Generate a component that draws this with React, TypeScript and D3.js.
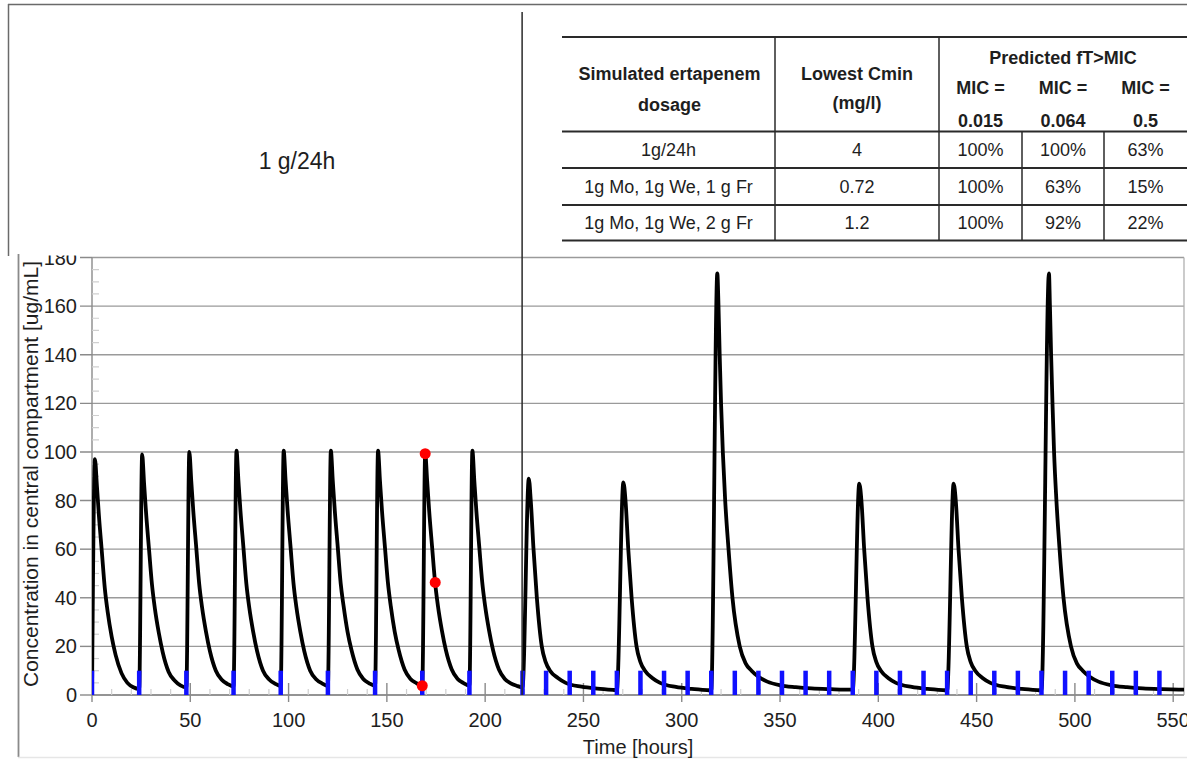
import React from "react";
import * as d3 from "d3";

const W = 1187;
const H = 763;

// ---------- data ----------
const yTicks = [0, 20, 40, 60, 80, 100, 120, 140, 160, 180];
const xTicks = [0, 50, 100, 150, 200, 250, 300, 350, 400, 450, 500, 550];

// concentration curve [hours, ug/mL]
const concentration: [number, number][] = [
  // 1 g / 24 h
  [0, 0], [1.5, 97], [2.5, 86], [3.5, 74], [5, 59], [6.5, 44], [8, 34], [10, 24], [12, 16.5], [15, 9], [18, 5], [21, 3.2],
  [24, 2.5], [25.5, 99], [26.5, 87], [27.5, 75], [29, 60], [30.5, 45.5], [32, 35.5], [34, 25.5], [36, 17.5], [39, 9.5], [42, 6], [45, 4],
  [48, 3.1], [49.5, 100], [50.5, 88], [51.5, 76], [53, 61], [54.5, 46], [56, 36], [58, 26], [60, 18], [63, 10], [66, 6.3], [69, 4.5],
  [72, 3.5], [73.5, 100.5], [74.5, 88], [75.5, 76], [77, 61], [78.5, 46], [80, 36], [82, 26], [84, 18], [87, 10], [90, 6.5], [93, 4.7],
  [96, 3.7], [97.5, 100.5], [98.5, 88], [99.5, 76], [101, 61], [102.5, 46], [104, 36], [106, 26], [108, 18], [111, 10], [114, 6.5], [117, 4.8],
  [120, 3.8], [121.5, 100.5], [122.5, 88], [123.5, 76], [125, 61], [126.5, 46], [128, 36.5], [130, 26], [132, 18.5], [135, 10.5], [138, 6.6], [141, 4.8],
  [144, 3.8], [145.5, 100.5], [146.5, 88], [147.5, 76], [149, 61], [150.5, 46.5], [152, 36.5], [154, 26], [156, 18.5], [159, 10.5], [162, 6.6], [165, 4.9],
  [168, 3.8], [169.5, 99.5], [170.5, 88], [171.5, 76], [173, 61], [174.5, 46.5], [176, 36.5], [178, 26.5], [180, 18.5], [183, 10.5], [186, 6.6], [189, 4.9],
  [192, 3.9], [193.5, 100.5], [194.5, 88], [195.5, 76], [197, 61], [198.5, 46.5], [200, 36.5], [202, 26.5], [204, 18.5], [207, 10.5], [210, 6.6], [213, 4.8], [216, 3.8],
  // 1 g Mo, 1 g We, 2 g Fr
  [219, 3.2], [222.2, 89], [223.2, 80], [224.6, 60], [226.3, 40], [228.8, 20], [230.8, 13.5], [233, 10], [237, 7], [241, 5], [249, 3.4], [257, 2.6], [265, 2.1],
  [267, 2.0], [270.3, 87.5], [271.4, 80], [272.8, 60], [274.5, 40], [277, 20], [279, 13.5], [281.3, 10], [285, 7], [289, 5], [297, 3.3], [305, 2.5], [313, 2.0],
  [315, 1.9], [318.1, 173.5], [318.7, 160], [319.3, 140], [320, 120], [320.9, 100], [322.1, 80], [323.8, 60], [325.8, 40], [329.5, 20], [332.5, 13], [335.5, 10], [339, 7.5], [343.5, 5.5], [350, 4], [358, 3.2], [366, 2.7], [376, 2.4],
  [387, 2.2], [390.3, 87], [391.4, 80], [392.8, 60], [394.5, 40], [397, 20], [399, 13.5], [401.3, 10], [405, 7], [409, 5], [417, 3.3], [425, 2.5], [433, 2.0],
  [435, 1.9], [438.3, 87], [439.4, 80], [440.8, 60], [442.5, 40], [445, 20], [447, 13.5], [449.3, 10], [453, 7], [457, 5], [465, 3.3], [473, 2.5], [481, 2.0],
  [483, 1.9], [486.8, 173.5], [487.3, 160], [487.9, 140], [488.6, 120], [489.4, 100], [490.6, 80], [492.2, 60], [494.2, 40], [498, 20], [501, 13], [504, 10], [507.5, 7.5], [512, 5.5], [518.5, 4], [526.5, 3.2], [534.5, 2.7], [544.5, 2.4], [556, 2.2],
];

// blue dosing / sampling markers (hours)
const markerTimes = [
  0, 24, 48, 72, 96, 120, 144, 168, 192,
  219, 231, 243, 255, 267, 279, 291, 303, 315, 327, 339, 351, 363, 375, 387,
  399, 411, 423, 435, 447, 459, 471, 483, 495, 507, 519, 531, 543,
];
const markerHeight = 10;

// red observation points
const redPoints: [number, number][] = [
  [168, 3.8],
  [169.5, 99.3],
  [174.6, 46.3],
];

const dividerTime = 218.8;

// table
const tableHeadDosage = ["Simulated ertapenem", "dosage"];
const tableHeadCmin = ["Lowest Cmin", "(mg/l)"];
const tableHeadFT = "Predicted fT>MIC";
const micValues = ["0.015", "0.064", "0.5"];
const tableRows = [
  { dosage: "1g/24h", cmin: "4", ft: ["100%", "100%", "63%"] },
  { dosage: "1g Mo, 1g We, 1 g Fr", cmin: "0.72", ft: ["100%", "63%", "15%"] },
  { dosage: "1g Mo, 1g We, 2 g Fr", cmin: "1.2", ft: ["100%", "92%", "22%"] },
];

const panelTitle = "1 g/24h";
const xTitle = "Time [hours]";
const yTitle = "Concentration in central compartment [ug/mL]";

// ---------- layout ----------
const plot = { left: 92, right: 1184, top: 257.5, bottom: 695 };
const FONT = "'Liberation Sans', Arial, Helvetica, sans-serif";
const TXT = "#1e1e1e";

export default function App() {
  const x = d3.scaleLinear().domain([0, 555.5]).range([plot.left, plot.right]);
  const y = d3.scaleLinear().domain([0, 180]).range([plot.bottom, plot.top]);

  const line = d3
    .line<[number, number]>()
    .x((d) => x(d[0]))
    .y((d) => y(d[1]))
    .curve(d3.curveMonotoneX);

  const xMinor = d3.range(0, 556, 10).filter((v) => v % 50 !== 0);
  const yMinor = d3.range(0, 181, 5).filter((v) => v % 20 !== 0);

  // table geometry
  const tL = 562, tR = W;
  const tTop = 37, tHead = 131.5, tR1 = 168, tR2 = 205, tBot = 240.5;
  const c1 = 775, c2 = 939, c3 = 1022, c4 = 1104;
  const colDos = (tL + c1) / 2;
  const colCmin = (c1 + c2) / 2;
  const micCols = [(c2 + c3) / 2, (c3 + c4) / 2, (c4 + tR) / 2];
  const rowY = [(tHead + tR1) / 2, (tR1 + tR2) / 2, (tR2 + tBot) / 2];

  return (
    <svg
      width={W}
      height={H}
      viewBox={`0 0 ${W} ${H}`}
      style={{ position: "absolute", left: 0, top: 0, background: "#fff" }}
      fontFamily={FONT}
    >
      <defs>
        <clipPath id="plotClip">
          <rect x={plot.left} y={plot.top - 4} width={plot.right - plot.left} height={plot.bottom - plot.top + 4} />
        </clipPath>
        <clipPath id="lowerClip">
          <rect x={0} y={255.5} width={W} height={H - 255.5} />
        </clipPath>
      </defs>
      <rect x={0} y={0} width={W} height={H} fill="#fff" />

      {/* outer frames */}
      <line x1={8} x2={W} y1={4.5} y2={4.5} stroke="#6a6a6a" strokeWidth={1.5} />
      <line x1={8.5} x2={8.5} y1={4} y2={256} stroke="#6a6a6a" strokeWidth={1.5} />
      <line x1={18.5} x2={18.5} y1={254} y2={757} stroke="#8a8a8a" strokeWidth={1.8} />
      <line x1={18} x2={W} y1={757.5} y2={757.5} stroke="#e6e6e6" strokeWidth={1.5} />

      {/* panel title */}
      <text x={297} y={161} fontSize={23} fill={TXT} textAnchor="middle" dominantBaseline="central">
        {panelTitle}
      </text>

      {/* table */}
      <g stroke="#2a2a2a">
        <line x1={tL} x2={tR} y1={tTop} y2={tTop} strokeWidth={2} />
        <line x1={tL} x2={tR} y1={tHead} y2={tHead} strokeWidth={2} />
        <line x1={tL} x2={tR} y1={tR1} y2={tR1} strokeWidth={1.8} />
        <line x1={tL} x2={tR} y1={tR2} y2={tR2} strokeWidth={1.8} />
        <line x1={tL} x2={tR} y1={tBot} y2={tBot} strokeWidth={2} />
        <line x1={c1} x2={c1} y1={tTop} y2={tBot} strokeWidth={1.5} />
        <line x1={c2} x2={c2} y1={tTop} y2={tBot} strokeWidth={1.5} />
        <line x1={c3} x2={c3} y1={tHead} y2={tBot} strokeWidth={1.5} />
        <line x1={c4} x2={c4} y1={tHead} y2={tBot} strokeWidth={1.5} />
      </g>
      <g fill={TXT} fontWeight="bold" fontSize={18} textAnchor="middle" dominantBaseline="central">
        <text x={colDos + 1} y={74}>{tableHeadDosage[0]}</text>
        <text x={colDos + 1} y={105}>{tableHeadDosage[1]}</text>
        <text x={colCmin} y={74}>{tableHeadCmin[0]}</text>
        <text x={colCmin} y={103}>{tableHeadCmin[1]}</text>
        <text x={micCols[1]} y={58}>{tableHeadFT}</text>
        {micValues.map((m, i) => (
          <g key={m}>
            <text x={micCols[i]} y={88}>MIC =</text>
            <text x={micCols[i]} y={121}>{m}</text>
          </g>
        ))}
      </g>
      <g fill={TXT} fontSize={18} textAnchor="middle" dominantBaseline="central">
        {tableRows.map((r, i) => (
          <g key={r.dosage}>
            <text x={colDos} y={rowY[i]}>{r.dosage}</text>
            <text x={colCmin} y={rowY[i]}>{r.cmin}</text>
            {r.ft.map((v, j) => (
              <text key={j} x={micCols[j]} y={rowY[i]}>{v}</text>
            ))}
          </g>
        ))}
      </g>

      {/* chart */}
      <g clipPath="url(#lowerClip)">
        {/* grid */}
        {yTicks.map((t) => (
          <line key={"g" + t} x1={plot.left} x2={plot.right} y1={y(t)} y2={y(t)} stroke="#9a9a9a" strokeWidth={1.4} />
        ))}
        <line x1={plot.right} x2={plot.right} y1={plot.top} y2={plot.bottom} stroke="#b0b0b0" strokeWidth={1.3} />
        {/* y axis */}
        <line x1={plot.left} x2={plot.left} y1={plot.top} y2={plot.bottom} stroke="#8a8a8a" strokeWidth={1.4} />
        {yTicks.map((t) => (
          <line key={"yt" + t} x1={80} x2={plot.left} y1={y(t)} y2={y(t)} stroke="#8a8a8a" strokeWidth={1.4} />
        ))}
        {yMinor.map((t) => (
          <line key={"ym" + t} x1={plot.left} x2={plot.left + 7} y1={y(t)} y2={y(t)} stroke="#cfcfcf" strokeWidth={1.2} />
        ))}
        {yTicks.map((t) => (
          <text key={"yl" + t} x={77} y={y(t)} fontSize={20} fill={TXT} textAnchor="end" dominantBaseline="central">
            {t}
          </text>
        ))}
        {/* x axis */}
        <line x1={plot.left} x2={plot.right} y1={plot.bottom} y2={plot.bottom} stroke="#8a8a8a" strokeWidth={1.4} />
        {xMinor.map((t) => (
          <line key={"xm" + t} x1={x(t)} x2={x(t)} y1={plot.bottom - 6} y2={plot.bottom} stroke="#cfcfcf" strokeWidth={1.2} />
        ))}
        {xTicks.map((t) => (
          <line key={"xt" + t} x1={x(t)} x2={x(t)} y1={t === 0 ? plot.bottom : plot.bottom - 12} y2={plot.bottom + 7} stroke="#8a8a8a" strokeWidth={1.4} />
        ))}
        {xTicks.map((t) => (
          <text key={"xl" + t} x={x(t)} y={720} fontSize={20} fill={TXT} textAnchor="middle" dominantBaseline="central">
            {t}
          </text>
        ))}
        <text x={638} y={747} fontSize={20} fill={TXT} textAnchor="middle" dominantBaseline="central">
          {xTitle}
        </text>
        <text
          transform={`translate(30, 474) rotate(-90)`}
          fontSize={21}
          fill={TXT}
          textAnchor="middle"
          dominantBaseline="central"
        >
          {yTitle}
        </text>

        {/* data */}
        <g clipPath="url(#plotClip)">
          <path d={line(concentration) || ""} fill="none" stroke="#000" strokeWidth={3.8} strokeLinejoin="round" />
          {markerTimes.map((t) => (
            <line key={"m" + t} x1={x(t)} x2={x(t)} y1={y(0)} y2={y(markerHeight)} stroke="#1010ff" strokeWidth={4.5} />
          ))}
          {redPoints.map((p, i) => (
            <circle key={"r" + i} cx={x(p[0])} cy={y(p[1])} r={5.5} fill="#ff0000" />
          ))}
        </g>
      </g>

      {/* divider line */}
      <line x1={x(dividerTime)} x2={x(dividerTime)} y1={12} y2={plot.bottom} stroke="#2a2a2a" strokeWidth={1.5} />
    </svg>
  );
}
